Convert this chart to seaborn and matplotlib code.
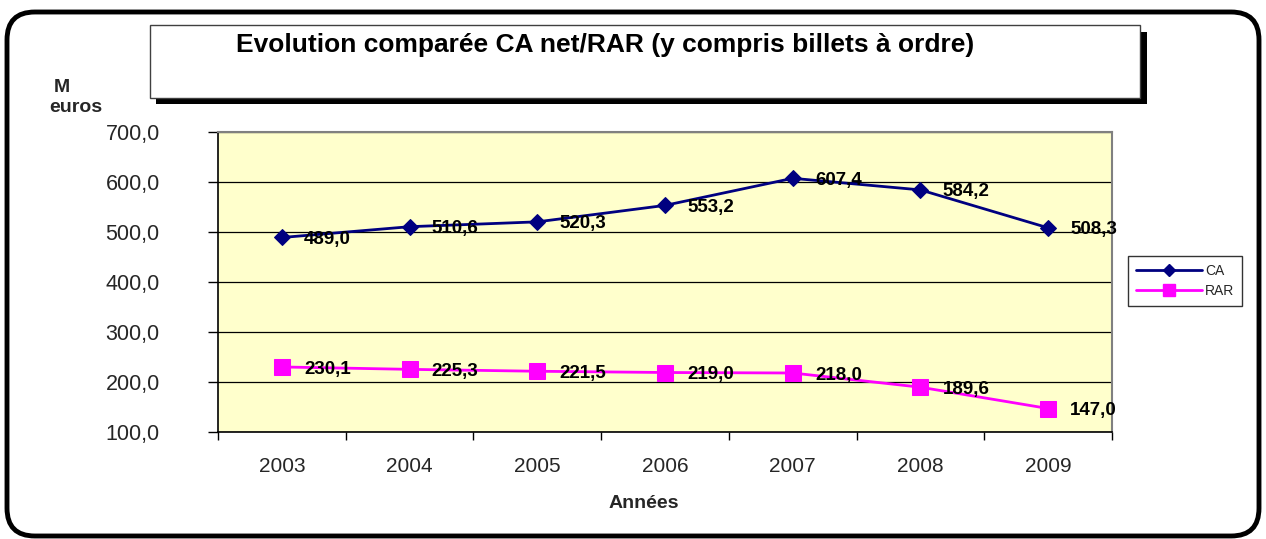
import numpy as np
import pandas as pd
import matplotlib
matplotlib.use("Agg")
import matplotlib.pyplot as plt
import seaborn as sns
from matplotlib.patches import Rectangle, FancyBboxPatch
from matplotlib.lines import Line2D

years = ["2003", "2004", "2005", "2006", "2007", "2008", "2009"]
ca_values = [489.0, 510.6, 520.3, 553.2, 607.4, 584.2, 508.3]
rar_values = [230.1, 225.3, 221.5, 219.0, 218.0, 189.6, 147.0]
series_names = ["CA", "RAR"]
y_ticks = [100, 200, 300, 400, 500, 600, 700]

sns.set_theme(style="white")
plt.rcParams['font.family'] = ['Liberation Sans', 'DejaVu Sans']

pos = list(range(len(years)))
df = pd.DataFrame({
    "pos": pos * 2,
    "val": ca_values + rar_values,
    "serie": [series_names[0]] * len(years) + [series_names[1]] * len(years),
})

fig = plt.figure(figsize=(12.66, 5.39), dpi=100)
fig.patch.set_facecolor("white")
ax = fig.add_axes([218/1266, 1-432/539, (1112-218)/1266, (432-132)/539])
ax.set_facecolor("#FFFFCC")

palette = {"CA": "#000080", "RAR": "#FF00FF"}
markers = {"CA": "D", "RAR": "s"}
sizes = {"CA": 8, "RAR": 11}
for name in series_names:
    sub = df[df.serie == name]
    sns.lineplot(data=sub, x="pos", y="val", ax=ax, color=palette[name],
                 marker=markers[name], markersize=sizes[name], linewidth=2,
                 markeredgecolor=palette[name], legend=False, zorder=3)
    for x, v in zip(sub.pos, sub.val):
        ax.annotate(f"{v:.1f}".replace(".", ","), (x, v), xytext=(16, -1.5),
                    textcoords="offset points", ha="left", va="center",
                    fontsize=13.5, fontweight="bold", color="black", zorder=4)

ax.set_xlim(-0.5, len(years) - 0.5)
ax.set_ylim(100, 700)
ax.set_yticks(y_ticks)
ax.set_yticklabels([f"{t:.1f}".replace(".", ",") for t in y_ticks], fontsize=15.5)
ax.set_xticks(pos)
ax.set_xticklabels(years, fontsize=15)
ax.set_xticks(np.arange(-0.5, len(years), 1), minor=True)
ax.tick_params(axis="x", which="major", length=0, pad=18)
ax.tick_params(axis="x", which="minor", length=6, width=1, color="black", direction="out", bottom=True)
ax.tick_params(axis="y", which="major", length=7, width=1, color="black", direction="out", left=True, pad=35)
ax.grid(axis="y", color="black", linewidth=0.9)
ax.grid(axis="x", visible=False)
ax.set_axisbelow(True)
ax.set_xlabel("Années", fontsize=14, fontweight="bold")
ax.xaxis.set_label_coords((644-218)/(1112-218), -(503-432)/(432-132))
ax.xaxis.label.set_verticalalignment("center")
ax.set_ylabel("")
for s in ["top", "right"]:
    ax.spines[s].set_color("#808080")
    ax.spines[s].set_linewidth(1.5)
for s in ["left", "bottom"]:
    ax.spines[s].set_color("black")
    ax.spines[s].set_linewidth(1.2)

# Units label
fig.text(62/1266, 1-88/539, "M", fontsize=14, fontweight="bold", ha="center", va="center")
fig.text(76/1266, 1-108/539, "euros", fontsize=14, fontweight="bold", ha="center", va="center")

# Title box with shadow
fig.patches.append(Rectangle((156/1266, 1-104/539), (1147-156)/1266, (104-32)/539,
                             transform=fig.transFigure, facecolor="black", edgecolor="none", zorder=1))
fig.patches.append(Rectangle((150/1266, 1-98/539), (1140-150)/1266, (98-25)/539,
                             transform=fig.transFigure, facecolor="white", edgecolor="#404040",
                             linewidth=1, zorder=2))
fig.text(605/1266, 1-45/539, "Evolution comparée CA net/RAR (y compris billets à ordre)",
         fontsize=19, fontweight="bold", ha="center", va="center", color="black", zorder=3)

# Outer rounded border
fig.patches.append(FancyBboxPatch((7/1266, 1-536/539), (1259-7)/1266, (536-12)/539,
                                  boxstyle="round,pad=0,rounding_size=0.022",
                                  transform=fig.transFigure, facecolor="none",
                                  edgecolor="black", linewidth=3.5, zorder=0,
                                  mutation_aspect=1266/539))

# Legend
handles = [Line2D([0], [0], color=palette[n], marker=markers[n], markersize=sizes[n]*0.75,
                  linewidth=2) for n in series_names]
leg = fig.legend(handles, series_names, loc="upper left",
                 bbox_to_anchor=(1128/1266, 1-256/539), borderaxespad=0, fontsize=10,
                 frameon=True, fancybox=False, handlelength=4.8, borderpad=0.55,
                 labelspacing=0.45, handletextpad=0.2)
leg.get_frame().set_edgecolor("black")
leg.get_frame().set_linewidth(1)

fig.savefig("out.png", dpi=100)
